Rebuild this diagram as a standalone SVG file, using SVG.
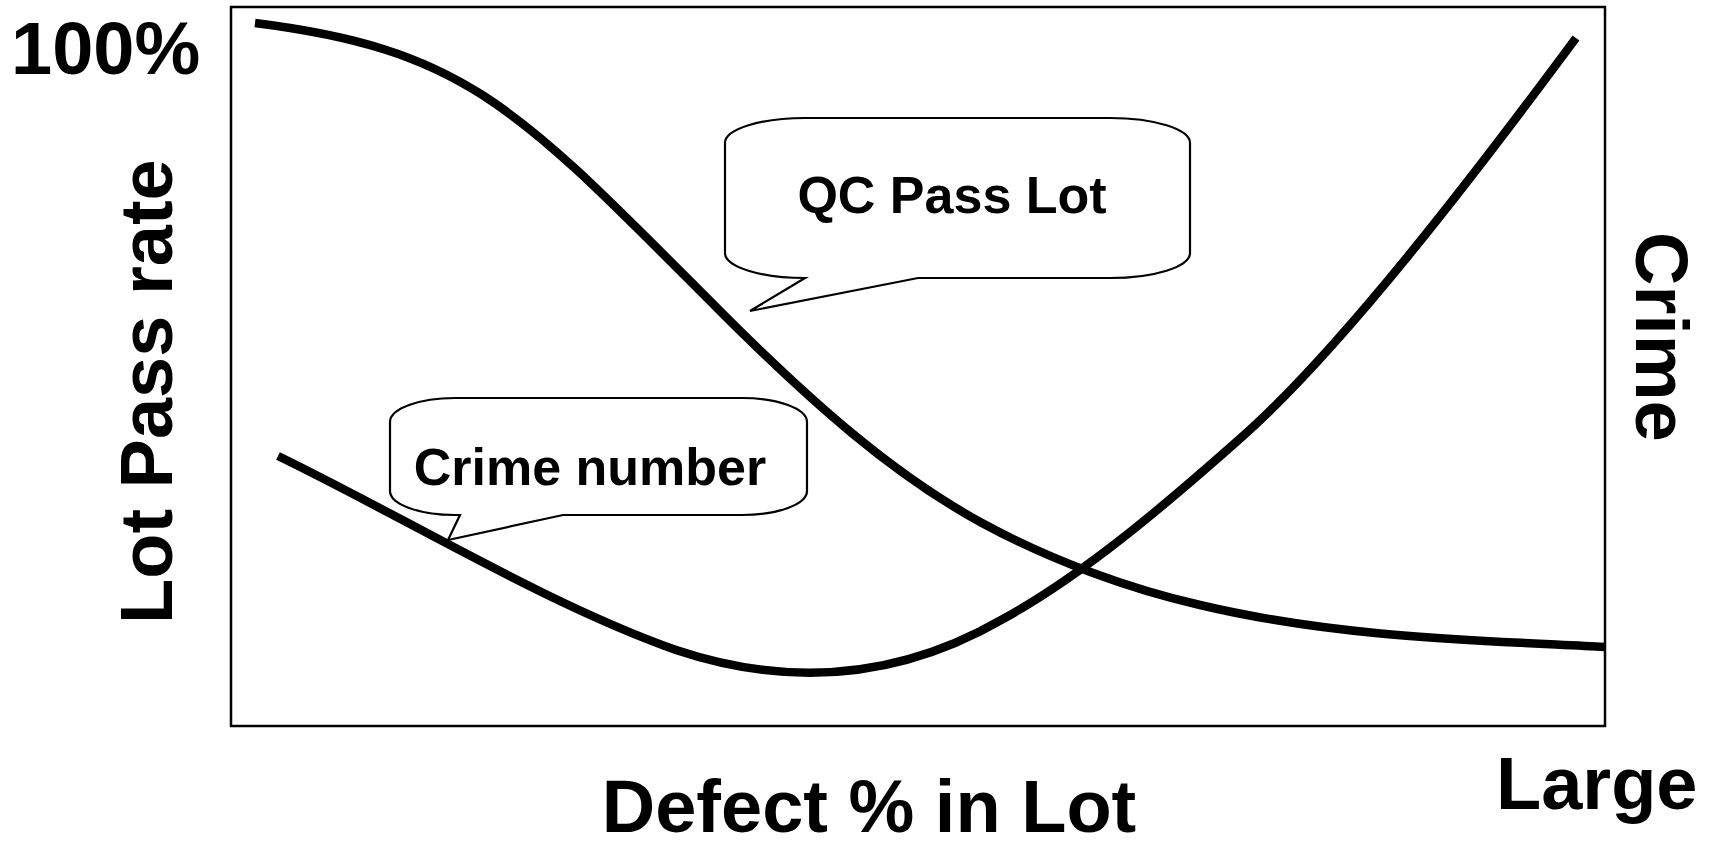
<svg xmlns="http://www.w3.org/2000/svg" width="1710" height="845" viewBox="0 0 1710 845">
<style>
.lbl{font-family:"Liberation Sans",Arial,sans-serif;font-weight:bold;fill:#000}
.big{font-size:74px}
.mid{font-size:52px}
.curve{fill:none;stroke:#000;stroke-width:8.5}
.callout{fill:#fff;stroke:#000;stroke-width:2.2}
</style>
<rect width="1710" height="845" fill="#fff"/>
<g id="frame"><rect x="231" y="7" width="1374" height="719" fill="none" stroke="#000" stroke-width="2.5"/></g>
<g id="axis-labels">
<text class="lbl big" x="11" y="74">100%</text>
<text class="lbl big" transform="translate(172,624) rotate(-90)">Lot Pass rate</text>
<text class="lbl big" transform="translate(1636,232) rotate(90)">Crime</text>
<text class="lbl big" x="1496" y="809">Large</text>
<text class="lbl big" x="869" y="832" text-anchor="middle">Defect % in Lot</text>
</g>
<g id="connectors">
<path id="qc-curve" class="curve" d="M255,23 C470,50 520,111 720,311 C810,401 892,474 982,523 C1052,561 1130,589 1200,605 C1335,637 1470,640 1605,647"/>
<path id="crime-curve" class="curve" d="M278,456 C408,519 546,604 676,650 C766,680 880,690 1003,619 C1083,575 1163,507 1243,436 C1343,347 1476,173 1576,38"/>
</g>
<g id="qc-callout">
<path class="callout" d="M805,118 H1110 A80 25 0 0 1 1190 143 V253 A80 25 0 0 1 1110 278 H918 L750 311 L805 278 A80 25 0 0 1 725 253 V143 A80 25 0 0 1 805 118 Z"/>
<text class="lbl mid" x="952" y="213" text-anchor="middle">QC Pass Lot</text>
</g>
<g id="crime-callout">
<path class="callout" d="M455,398 H742 A65 24 0 0 1 807 422 V491 A65 24 0 0 1 742 515 H563 L448 540 L460 515 H455 A65 24 0 0 1 390 491 V422 A65 24 0 0 1 455 398 Z"/>
<text class="lbl mid" x="590" y="485" text-anchor="middle">Crime number</text>
</g>
</svg>
